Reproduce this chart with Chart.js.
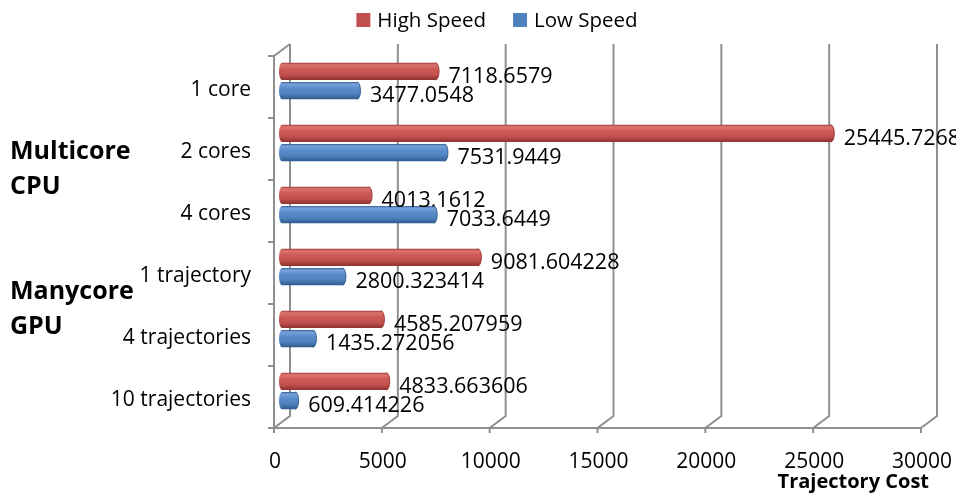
<!DOCTYPE html>
<html>
<head>
<meta charset="utf-8">
<script src="https://cdn.jsdelivr.net/npm/chart.js@4.4.1/dist/chart.umd.min.js"></script>
<style>
  html, body { margin: 0; padding: 0; background: #ffffff; }
  #wrap { width: 956px; height: 496px; }
</style>
</head>
<body>
<div id="wrap"><canvas id="c" width="956" height="496"></canvas></div>
<script>
// Categories (top to bottom) and the two series
const categories = ['1 core', '2 cores', '4 cores', '1 trajectory', '4 trajectories', '10 trajectories'];
const highSpeed = [7118.6579, 25445.7268, 4013.1612, 9081.604228, 4585.207959, 4833.663606];
const lowSpeed  = [3477.0548, 7531.9449, 7033.6449, 2800.323414, 1435.272056, 609.414226];
const seriesNames = ['High Speed', 'Low Speed'];
const groupNames = [['Multicore', 'CPU'], ['Manycore', 'GPU']];
const axisTitle = 'Trajectory Cost';
const xTicks = [0, 5000, 10000, 15000, 20000, 25000, 30000];

const FONT = '"Open Sans", "Liberation Sans", sans-serif';
const CAT_PCT = 0.62, BAR_PCT = 0.9;
// depth offset between the bar plane and the front / back planes of the 3D box
const DX = 8, DY = 6;

const palette = [
  { light: '#dc7572', mid: '#cf5b57', base: '#c0504d', dark: '#8c302d', rim: '#9e3a37', key: '#c0504d' },
  { light: '#78a3da', mid: '#5c8dcc', base: '#4f81bd', dark: '#2f5a8e', rim: '#365f92', key: '#4f81bd' }
];

function barBand(chart, dsIndex, dataIndex) {
  const y = chart.scales.y;
  if (!y) return null;
  const catH = (y.bottom - y.top) / categories.length;
  const slot = catH * CAT_PCT / 2;
  const thick = slot * BAR_PCT;
  const c = y.getPixelForValue(dataIndex) + (dsIndex - 0.5) * slot;
  if (!isFinite(c) || !isFinite(thick) || thick <= 0) return null;
  return { top: c - thick / 2, bottom: c + thick / 2, thick };
}

function cylGradient(chart, dsIndex, dataIndex) {
  const b = barBand(chart, dsIndex, dataIndex);
  const p = palette[dsIndex];
  if (!b) return p.base;
  const g = chart.ctx.createLinearGradient(0, b.top, 0, b.bottom);
  g.addColorStop(0, p.rim);
  g.addColorStop(0.12, p.light);
  g.addColorStop(0.35, p.mid);
  g.addColorStop(0.7, p.base);
  g.addColorStop(1, p.dark);
  return g;
}

// 3D frame: back wall gridlines, floor diagonals, front axes
const framePlugin = {
  id: 'frame3d',
  beforeDatasetsDraw(chart) {
    const { ctx, scales: { x, y } } = chart;
    ctx.save();
    ctx.strokeStyle = '#8f8f8f';
    ctx.lineWidth = 2;
    ctx.lineCap = 'butt';
    const backTop = y.top - DY, backBottom = y.bottom - DY;
    const frontBottom = y.bottom + DY;
    xTicks.forEach(v => {
      const px = x.getPixelForValue(v);
      ctx.beginPath();
      ctx.moveTo(px + DX, backTop);
      ctx.lineTo(px + DX, backBottom);
      ctx.lineTo(px - DX, frontBottom);
      ctx.lineTo(px - DX, frontBottom + 5);
      ctx.stroke();
    });
    const fx0 = x.getPixelForValue(0) - DX;
    const fx1 = x.getPixelForValue(30000) - DX;
    // front horizontal axis
    ctx.beginPath();
    ctx.moveTo(fx0 - 6, frontBottom);
    ctx.lineTo(fx1, frontBottom);
    ctx.stroke();
    // front vertical axis and top-left edge
    ctx.beginPath();
    ctx.moveTo(x.getPixelForValue(0) + DX, backTop);
    ctx.lineTo(fx0, y.top + DY);
    ctx.lineTo(fx0, frontBottom);
    ctx.stroke();
    // category boundary ticks on the front vertical axis
    const catH = (y.bottom - y.top) / categories.length;
    for (let k = 0; k <= categories.length; k++) {
      const py = y.top + DY + k * catH;
      ctx.beginPath();
      ctx.moveTo(fx0 - 6, py);
      ctx.lineTo(fx0, py);
      ctx.stroke();
    }
    ctx.restore();
  }
};

// cylinder caps, value labels, group labels and legend
const decorPlugin = {
  id: 'decor',
  afterDatasetsDraw(chart) {
    const { ctx } = chart;
    ctx.save();
    chart.data.datasets.forEach((ds, di) => {
      const meta = chart.getDatasetMeta(di);
      const p = palette[di];
      meta.data.forEach((el, i) => {
        const b = barBand(chart, di, i);
        if (!b) return;
        const r = b.thick / 2;
        const grad = cylGradient(chart, di, i);
        // rounded left end
        ctx.beginPath();
        ctx.ellipse(el.base, el.y, 3, r, 0, Math.PI / 2, Math.PI * 1.5);
        ctx.fillStyle = grad;
        ctx.fill();
        // end face
        ctx.beginPath();
        ctx.ellipse(el.x, el.y, 3.5, r, 0, 0, Math.PI * 2);
        ctx.fillStyle = grad;
        ctx.fill();
        ctx.beginPath();
        ctx.ellipse(el.x, el.y, 3.5, r, 0, -Math.PI / 2, Math.PI / 2);
        ctx.strokeStyle = p.rim;
        ctx.lineWidth = 1;
        ctx.stroke();
        // value label
        ctx.fillStyle = '#000000';
        ctx.font = '21.5px ' + FONT;
        ctx.textAlign = 'left';
        ctx.textBaseline = 'middle';
        ctx.fillText(String(ds.data[i]), el.x + 13, el.y + 5.5);
      });
    });
    ctx.restore();
  },
  afterDraw(chart) {
    const { ctx } = chart;
    ctx.save();
    // group labels on the far left
    ctx.fillStyle = '#000000';
    ctx.font = 'bold 25px ' + FONT;
    ctx.textAlign = 'left';
    ctx.textBaseline = 'alphabetic';
    const baselines = [[159, 194], [299, 334]];
    groupNames.forEach((lines, g) => {
      lines.forEach((t, j) => ctx.fillText(t, 10, baselines[g][j]));
    });
    // legend
    ctx.font = '20.5px ' + FONT;
    ctx.textBaseline = 'middle';
    const box = 14, gapText = 7, gapItem = 27;
    const widths = chart.data.datasets.map(d => ctx.measureText(d.label).width);
    let total = 0;
    widths.forEach((w, i) => { total += box + gapText + w + (i ? gapItem : 0); });
    let lx = 497 - total / 2;
    chart.data.datasets.forEach((d, i) => {
      ctx.fillStyle = palette[i].key;
      ctx.fillRect(lx, 13, box, box);
      ctx.fillStyle = '#000000';
      ctx.fillText(d.label, lx + box + gapText, 21);
      lx += box + gapText + widths[i] + gapItem;
    });
    ctx.restore();
  }
};

function zeroPad(scale) {
  scale.paddingLeft = 0; scale.paddingRight = 0;
  scale.paddingTop = 0; scale.paddingBottom = 0;
}

new Chart(document.getElementById('c'), {
  type: 'bar',
  data: {
    labels: categories,
    datasets: [
      { label: seriesNames[0], data: highSpeed,
        backgroundColor: c => cylGradient(c.chart, 0, c.dataIndex) },
      { label: seriesNames[1], data: lowSpeed,
        backgroundColor: c => cylGradient(c.chart, 1, c.dataIndex) }
    ]
  },
  options: {
    indexAxis: 'y',
    responsive: false,
    animation: false,
    categoryPercentage: CAT_PCT,
    barPercentage: BAR_PCT,
    borderWidth: 0,
    layout: { padding: { left: 0, right: 27, top: 50, bottom: 0 } },
    plugins: { legend: { display: false }, tooltip: { enabled: false } },
    scales: {
      x: {
        min: 0, max: 30000,
        border: { display: false },
        grid: { display: false, drawTicks: false },
        afterBuildTicks: s => { s.ticks = xTicks.map(v => ({ value: v })); },
        ticks: { color: '#000000', font: { family: FONT, size: 21 }, padding: 27, labelOffset: -7,
                 maxRotation: 0, autoSkip: false, callback: v => String(v) },
        title: { display: true, text: axisTitle, align: 'end', color: '#000000',
                 font: { family: FONT, size: 20, weight: 'bold' }, padding: { top: 0, bottom: 2 } },
        afterFit: s => { s.height = 74; zeroPad(s); }
      },
      y: {
        border: { display: false },
        grid: { display: false, drawTicks: false },
        ticks: { color: '#000000', font: { family: FONT, size: 21 }, padding: 31, labelOffset: 9.5, autoSkip: false },
        afterFit: s => { s.width = 282; zeroPad(s); }
      }
    }
  },
  plugins: [framePlugin, decorPlugin]
});
</script>
</body>
</html>
